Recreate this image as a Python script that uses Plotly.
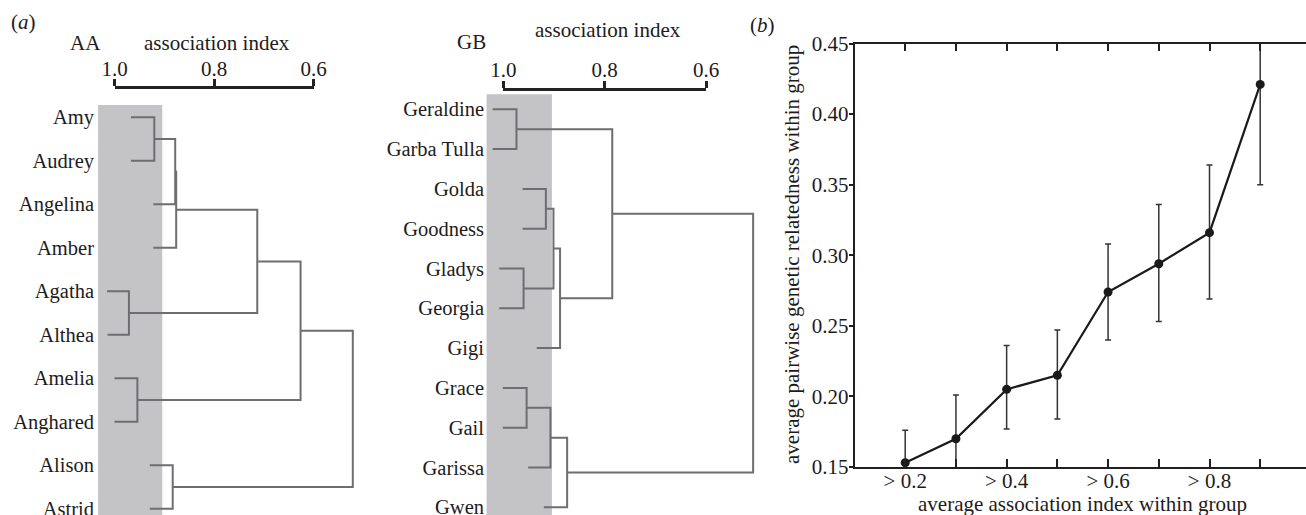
import plotly.graph_objects as go

# ---------------- data ----------------
# (a) dendrogram AA
aa_leaves = ["Amy", "Audrey", "Angelina", "Amber", "Agatha", "Althea",
             "Amelia", "Anghared", "Alison", "Astrid"]
aa_tips = [0.967, 0.967, 0.922, 0.922, 1.015, 1.014, 1.000, 1.000, 0.929, 0.929]
aa_merge_left = ["Amy", "m1", "m2", "Agatha", "m3", "Amelia", "m5", "Alison", "m7"]
aa_merge_right = ["Audrey", "Angelina", "Amber", "Althea", "m4", "Anghared", "m6", "Astrid", "m8"]
aa_merge_index = [0.920, 0.878, 0.876, 0.971, 0.713, 0.954, 0.626, 0.883, 0.521]

# (a) dendrogram GB
gb_leaves = ["Geraldine", "Garba Tulla", "Golda", "Goodness", "Gladys", "Georgia",
             "Gigi", "Grace", "Gail", "Garissa", "Gwen"]
gb_tips = [1.021, 1.021, 0.962, 0.962, 1.008, 1.008, 0.934, 1.001, 1.001, 0.951, 0.920]
gb_merge_left = ["Geraldine", "Golda", "Gladys", "m2", "m4", "m1", "Grace", "m7", "m8", "m6"]
gb_merge_right = ["Garba Tulla", "Goodness", "Georgia", "m3", "Gigi", "m5", "Gail", "Garissa", "Gwen", "m9"]
gb_merge_index = [0.974, 0.916, 0.960, 0.901, 0.888, 0.785, 0.954, 0.907, 0.874, 0.507]

scale_ticks = [1.0, 0.8, 0.6]
scale_labels = ["1.0", "0.8", "0.6"]
shade_range = [1.033, 0.904]

# (b) relatedness vs association threshold
assoc_threshold = [0.2, 0.3, 0.4, 0.5, 0.6, 0.7, 0.8, 0.9]
relatedness = [0.153, 0.170, 0.205, 0.215, 0.274, 0.294, 0.316, 0.421]
err_upper = [0.023, 0.031, 0.031, 0.032, 0.034, 0.042, 0.048, 0.071]
err_lower = [0.023, 0.031, 0.028, 0.031, 0.034, 0.041, 0.047, 0.071]
b_xticks = [0.2, 0.3, 0.4, 0.5, 0.6, 0.7, 0.8, 0.9]
b_xlabels = ["> 0.2", "", "> 0.4", "", "> 0.6", "", "> 0.8", ""]
b_yticks = [0.15, 0.20, 0.25, 0.30, 0.35, 0.40, 0.45]
b_xtitle = "average association index within group"
b_ytitle = "average pairwise genetic relatedness within group"


def dendro_xy(leaves, tips, left, right, heights):
    pos = {name: (float(i), tip) for i, (name, tip) in enumerate(zip(leaves, tips))}
    xs, ys = [], []
    for k, (a, b, h) in enumerate(zip(left, right, heights), start=1):
        ya, xa = pos[a]
        yb, xb = pos[b]
        xs += [xa, h, h, xb, None]
        ys += [ya, ya, yb, yb, None]
        pos[f"m{k}"] = ((ya + yb) / 2, h)
    return xs, ys


# ---------------- layout geometry (pixels) ----------------
W, H = 1306, 515
FONT = "Liberation Serif"
TXT = "#1e1b1c"
LINE = "#6e6e72"
SHADE = "#c4c4c6"


def px(x):
    return x / W


def py(y):
    return (H - y) / H


# AA dendrogram: ai 1.0 at x=114.5, 0.6 at x=313.5
aa_x0, aa_x1, aa_one, aa_ppu = 96, 365, 114.5, 497.5
aa_y0, aa_leaf0, aa_step = 100, 117.3, 43.5
# GB dendrogram: ai 1.0 at x=503.3, 0.6 at x=706
gb_x0, gb_x1, gb_one, gb_ppu = 486, 762, 503.3, 506.75
gb_y0, gb_leaf0, gb_step = 88, 109.3, 39.8

fig = go.Figure()

ax, ay = dendro_xy(aa_leaves, aa_tips, aa_merge_left, aa_merge_right, aa_merge_index)
fig.add_trace(go.Scatter(x=ax, y=ay, mode="lines", line=dict(color=LINE, width=2),
                         xaxis="x", yaxis="y", hoverinfo="skip", showlegend=False))
gx, gy = dendro_xy(gb_leaves, gb_tips, gb_merge_left, gb_merge_right, gb_merge_index)
fig.add_trace(go.Scatter(x=gx, y=gy, mode="lines", line=dict(color=LINE, width=2),
                         xaxis="x2", yaxis="y2", hoverinfo="skip", showlegend=False))

# panel b
fig.add_trace(go.Scatter(
    x=assoc_threshold, y=relatedness, mode="lines+markers",
    line=dict(color="#1a1a1a", width=2.2),
    marker=dict(color="#1a1a1a", size=9),
    error_y=dict(type="data", symmetric=False, array=err_upper, arrayminus=err_lower,
                 color="#333333", thickness=1.5, width=3),
    xaxis="x3", yaxis="y3", showlegend=False))

# scale-bar helper traces
for xa, ya in (("x4", "y4"), ("x5", "y5")):
    fig.add_trace(go.Scatter(x=scale_ticks, y=[0, 0, 0], mode="markers",
                             marker=dict(opacity=0), xaxis=xa, yaxis=ya,
                             hoverinfo="skip", showlegend=False))

aa_range_x = [1 + (aa_one - aa_x0) / aa_ppu, 1 - (aa_x1 - aa_one) / aa_ppu]
aa_range_y = [(H - aa_leaf0) / aa_step, (aa_y0 - aa_leaf0) / aa_step]
gb_range_x = [1 + (gb_one - gb_x0) / gb_ppu, 1 - (gb_x1 - gb_one) / gb_ppu]
gb_range_y = [(H - gb_leaf0) / gb_step, (gb_y0 - gb_leaf0) / gb_step]

hidden_x = dict(showgrid=False, zeroline=False, showline=False, showticklabels=False,
                ticks="", automargin=False)


def dendro_y(domain_top, rng, leaves, anchor):
    return dict(domain=[0, py(domain_top)], range=rng, anchor=anchor,
                tickmode="array", tickvals=list(range(len(leaves))), ticktext=leaves,
                showgrid=False, zeroline=False, showline=False, ticks="",
                tickfont=dict(family=FONT, size=20.5, color=TXT), ticklabelstandoff=1,
                ticklabeloverflow="allow", automargin=False)


def scale_axes(one_px, ppu, bar_y):
    xa = dict(domain=[px(one_px), px(one_px + 0.4 * ppu)], range=[1.0, 0.6],
              side="top", showline=True, linewidth=2.5, linecolor="#222222",
              ticks="outside", ticklen=7, tickwidth=2.5, tickcolor="#222222",
              tickmode="array", tickvals=scale_ticks, ticktext=scale_labels,
              tickfont=dict(family=FONT, size=21, color=TXT), ticklabelstandoff=-5,
              ticklabeloverflow="allow",
              showgrid=False, zeroline=False, automargin=False)
    ya = dict(domain=[py(bar_y) - 0.005, py(bar_y)], visible=False, range=[-1, 0],
              automargin=False)
    return xa, ya


x4, y4 = scale_axes(aa_one, aa_ppu, 89)
x5, y5 = scale_axes(gb_one, gb_ppu, 90.5)
x4["anchor"], y4["anchor"] = "y4", "x4"
x5["anchor"], y5["anchor"] = "y5", "x5"

b_left, b_right, b_top, b_bot = 854.5, 1306, 43.5, 467
b_ppu = (1261 - 906) / 0.7
b_range_x = [0.1, 0.1 + (b_right - b_left) / b_ppu]

fig.update_layout(
    width=W, height=H, margin=dict(l=0, r=0, t=0, b=0, autoexpand=False),
    paper_bgcolor="white", plot_bgcolor="white",
    font=dict(family=FONT, color=TXT, size=21),
    xaxis=dict(domain=[px(aa_x0), px(aa_x1)], range=aa_range_x, anchor="y", **hidden_x),
    yaxis=dendro_y(aa_y0, aa_range_y, aa_leaves, "x"),
    xaxis2=dict(domain=[px(gb_x0), px(gb_x1)], range=gb_range_x, anchor="y2", **hidden_x),
    yaxis2=dendro_y(gb_y0, gb_range_y, gb_leaves, "x2"),
    xaxis3=dict(domain=[px(b_left), px(b_right)], range=b_range_x, anchor="y3",
                showline=True, linewidth=1.6, linecolor="#231f20", mirror="ticks",
                ticks="inside", ticklen=8, tickwidth=1.5, tickcolor="#231f20",
                tickmode="array", tickvals=b_xticks, ticktext=b_xlabels,
                tickfont=dict(family=FONT, size=21, color=TXT), ticklabelstandoff=-6,
                showgrid=False, zeroline=False, automargin=False),
    yaxis3=dict(domain=[py(b_bot), py(b_top)], range=[0.15, 0.45], anchor="x3",
                showline=True, linewidth=1.6, linecolor="#231f20", mirror=False,
                ticks="outside", ticklen=4, tickwidth=1.5, tickcolor="#231f20",
                tickmode="array", tickvals=b_yticks,
                ticktext=[f"{v:.2f}" for v in b_yticks],
                tickfont=dict(family=FONT, size=21, color=TXT), ticklabelstandoff=-4,
                showgrid=False, zeroline=False, automargin=False),
    xaxis4=x4, yaxis4=y4, xaxis5=x5, yaxis5=y5,
    shapes=[
        dict(type="rect", xref="x", yref="y", x0=shade_range[0], x1=shade_range[1],
             y0=-0.28, y1=aa_range_y[0], fillcolor=SHADE, line=dict(width=0), layer="below"),
        dict(type="rect", xref="x2", yref="y2", x0=shade_range[0], x1=shade_range[1],
             y0=-0.38, y1=gb_range_y[0], fillcolor=SHADE, line=dict(width=0), layer="below"),
    ],
    annotations=[
        dict(text="(<i>a</i>)", x=px(23), y=py(22), xref="paper", yref="paper",
             showarrow=False, xanchor="center", yanchor="middle", font=dict(size=21)),
        dict(text="AA", x=px(85), y=py(43), xref="paper", yref="paper",
             showarrow=False, xanchor="center", yanchor="middle"),
        dict(text="association index", x=px(217), y=py(43), xref="paper", yref="paper",
             showarrow=False, xanchor="center", yanchor="middle"),
        dict(text="GB", x=px(471), y=py(42), xref="paper", yref="paper",
             showarrow=False, xanchor="center", yanchor="middle"),
        dict(text="association index", x=px(608), y=py(30), xref="paper", yref="paper",
             showarrow=False, xanchor="center", yanchor="middle"),
        dict(text="(<i>b</i>)", x=px(762), y=py(25), xref="paper", yref="paper",
             showarrow=False, xanchor="center", yanchor="middle", font=dict(size=21)),
        dict(text=b_xtitle, x=px(1082), y=py(504), xref="paper", yref="paper",
             showarrow=False, xanchor="center", yanchor="middle"),
        dict(text=b_ytitle, x=px(792), y=py(255), xref="paper", yref="paper",
             textangle=-90, showarrow=False, xanchor="center", yanchor="middle"),
    ],
)

fig.write_html("out.html", config={"displayModeBar": False},
               post_script="document.body.style.margin='0';"
                           "document.body.style.overflow='hidden';")
